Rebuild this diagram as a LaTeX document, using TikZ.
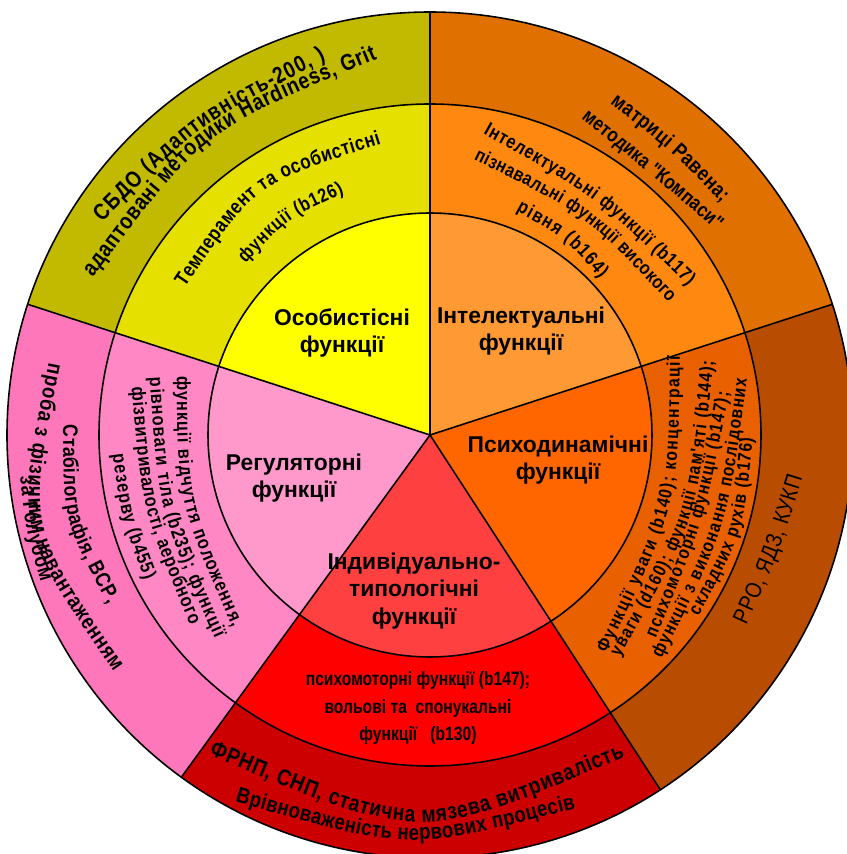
\documentclass[tikz,border=0pt]{standalone}
\usepackage{fontspec}
\setmainfont{Liberation Sans}
\newfontfamily\narrowfont[FakeStretch=0.84]{Liberation Sans}
\newfontfamily\condfont[FakeStretch=0.81]{Liberation Sans}
\usetikzlibrary{calc,decorations.text}

\definecolor{perIn}{HTML}{FFFF00}
\definecolor{perMid}{HTML}{E6E000}
\definecolor{perOut}{HTML}{C2BA00}
\definecolor{intIn}{HTML}{FF9933}
\definecolor{intMid}{HTML}{FF8811}
\definecolor{intOut}{HTML}{E07000}
\definecolor{dynIn}{HTML}{FF6600}
\definecolor{dynMid}{HTML}{E86000}
\definecolor{dynOut}{HTML}{B84C00}
\definecolor{indIn}{HTML}{FF4040}
\definecolor{indMid}{HTML}{FF0000}
\definecolor{indOut}{HTML}{CC0000}
\definecolor{regIn}{HTML}{FF99CC}
\definecolor{regMid}{HTML}{FF88C4}
\definecolor{regOut}{HTML}{FF77BB}

\newcommand{\labelfont}{\bfseries\fontsize{13}{15.5}\selectfont}
\newcommand{\bentfont}[1]{\narrowfont\bfseries\fontsize{#1}{#1}\selectfont}
\newcommand{\plainfont}{\narrowfont\fontsize{13}{13}\selectfont}

% text bent through start, middle and end point
\newcommand{\bent}[5]{%
  \path[decorate,decoration={text along path,text align={fit to path=true},
      text={|#4|#5}}]
    (#1) .. controls ($2*(#2)-0.5*(#1)-0.5*(#3)$) .. (#3);}

\begin{document}
\begin{tikzpicture}[x=0.2mm,y=0.2mm,line width=0.9pt,
  sectorlabel/.style={font=\labelfont,align=center}]
\useasboundingbox (-430,-419) rectangle (417,435);

\foreach \a/\b/\ci/\cm/\co in {18/90/intIn/intMid/intOut,90/162/perIn/perMid/perOut,
    162/234/regIn/regMid/regOut,234/303/indIn/indMid/indOut,303/378/dynIn/dynMid/dynOut}{
  \fill[\co] (0,0) -- (\a:423) arc[start angle=\a,end angle=\b,radius=423] -- cycle;
  \fill[\cm] (0,0) -- (\a:331) arc[start angle=\a,end angle=\b,radius=331] -- cycle;
  \fill[\ci] (0,0) -- (\a:222) arc[start angle=\a,end angle=\b,radius=222] -- cycle;
}
\foreach \r in {222,331,423}
  \draw (0,0) circle[radius=\r];
\foreach \a in {18,90,162,234,303}
  \draw (0,0) -- (\a:423);

\node[sectorlabel] (pers) at (-88,102) {Особистісні\\функції};
\node[sectorlabel] (intel) at (91,104) {Інтелектуальні\\функції};
\node[sectorlabel] (dyn) at (128,-25) {Психодинамічні\\функції};
\node[sectorlabel] (reg) at (-136,-43) {Регуляторні\\функції};
\node[sectorlabel] (ind) at (-16,-156) {Індивідуально-\\типологічні\\функції};

\node[font=\condfont\bfseries\fontsize{11}{15.5}\selectfont,align=center] (indtext) at (-12,-273)
  {психомоторні функції (b147);\\вольові та\ \ спонукальні\\функції\ \ \ (b130)};

% yellow sector
\bent{147:391}{126.25:376}{105.5:389}{\bentfont{13}}{СБДО (Адаптивність-200, )}
\bent{155:372}{126.5:355}{98:380}{\bentfont{13}}{адаптовані методики Hardiness, Grit}
\bent{149:286}{124.25:285}{99.5:295}{\bentfont{11.6}}{Темперамент та особистісні}
\bent{137:252}{123.25:253}{109.5:257}{\bentfont{11}}{функції (b126)}

% light orange sector
\bent{61.5:377}{50:370}{38.5:373}{\bentfont{12}}{матриці Равена;}
\bent{64.5:351}{50:341}{35.5:352}{\bentfont{11.5}}{методика "Компаси"}
\bent{80:306}{55:282}{30:298}{\bentfont{11}}{Інтелектуальні функції (b117)}
\bent{81:279}{55:259}{29:273}{\bentfont{10.8}}{пізнавальні функції високого}
\bent{69:240}{55.75:234}{42.5:231}{\bentfont{11}}{рівня (b164)}

% dark orange sector
\bent{-51:281}{-16.75:241}{17.5:262}{\bentfont{10.5}}{Функції уваги (b140); концентрації}
\bent{-49.5:292}{-17.5:264}{14.5:293}{\bentfont{10.5}}{уваги (d160); функції пам'яті (b144);}
\bent{-42:304}{-17:281}{8:302}{\bentfont{10.5}}{психомоторні функції (b147);}
\bent{-44:322}{-17:299}{10:322}{\bentfont{10.5}}{функції з виконання послідовних}
\bent{-34:324}{-17.25:319}{-0.5:323}{\bentfont{10.5}}{складних рухів (b176)}
\bent{-31:369}{-18.75:366}{-6.5:375}{\plainfont}{РРО, ЯДЗ, КУКП}

% red sector
\bent{-124.7:389}{-91.75:365}{-58.8:376}{\bentfont{13}}{ФРНП, СНП, статична мязева витривалість}
\bent{-118:415}{-93.4:394}{-68.7:401}{\bentfont{12.5}}{Врівноваженість нервових процесів}

% pink sector
\bent{178.4:367}{193.1:365}{207.8:364}{\bentfont{12}}{Стабілографія, ВСР,}
\bent{169.3:388}{193:392}{216.8:395}{\bentfont{12.5}}{проба з фізичним навантаженням}
\bent{185.8:412}{193.25:413}{200.7:416}{\bentfont{12}}{за Голубом}
\bent{166.9:260}{195.6:248}{224.3:276}{\bentfont{11}}{функції відчуття положення,}
\bent{168.5:286}{196:270}{223.4:296}{\bentfont{11}}{рівноваги тіла (b235); функції}
\bent{171:302}{194.7:288}{218.4:306}{\bentfont{11}}{фізвитривалості, аеробного}
\bent{183.6:318}{195.3:316}{207:320}{\bentfont{11}}{резерву (b455)}
\end{tikzpicture}
\end{document}
